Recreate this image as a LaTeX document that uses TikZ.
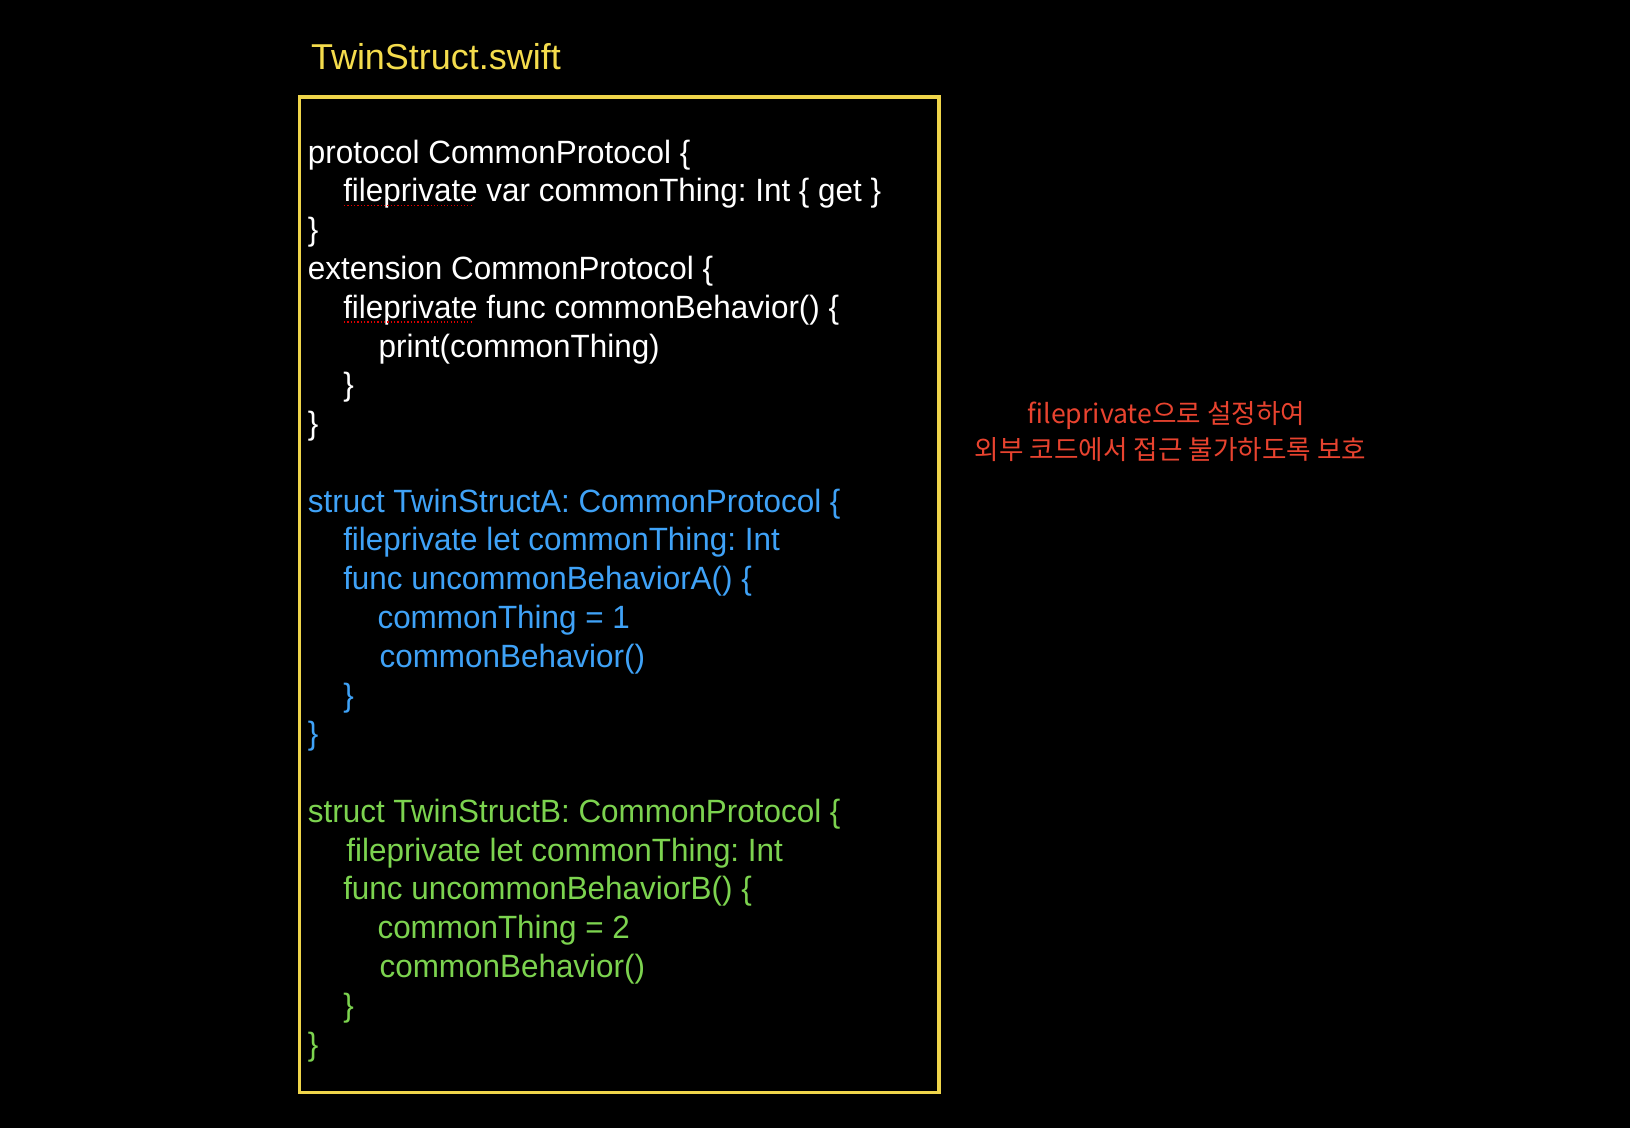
\documentclass[tikz,border=0pt]{standalone}
\usepackage{fontspec}
\setmainfont{Liberation Sans}
\newfontfamily\codefont[FakeStretch=0.975]{Liberation Sans}
\newfontfamily\krfont{Noto Sans CJK KR}
\frenchspacing
\definecolor{titleyellow}{HTML}{F4DC4C}
\definecolor{boxyellow}{HTML}{EFD54A}
\definecolor{codeblue}{HTML}{3FA2F7}
\definecolor{codegreen}{HTML}{7CD34F}
\definecolor{notered}{HTML}{E8432F}
\tikzset{
  codeline/.style={anchor=base west, inner sep=0pt, font=\codefont\fontsize{31}{37}\selectfont},
  wcode/.style={codeline, text=white},
  bcode/.style={codeline, text=codeblue},
  gcode/.style={codeline, text=codegreen},
  titletext/.style={anchor=base west, inner sep=0pt, text=titleyellow, font=\fontsize{34.6}{40}\selectfont},
  notetext/.style={anchor=base, inner sep=0pt, text=notered, font=\krfont\fontsize{25.6}{30}\selectfont},
  filebox/.style={draw=boxyellow, line width=3.5pt},
  spellmark/.style={draw=red!85!black, line width=1.2pt, dotted}
}
\begin{document}
\begin{tikzpicture}[x=1pt,y=-1pt]
\useasboundingbox (0,0) rectangle (1568,1085);
\fill[black] (0,0) rectangle (1568,1085);

\node[titletext] (title) at (299,67.3) {TwinStruct.swift};
\draw[filebox] (288,93) rectangle (903,1051);

\def\bl#1{157+37.3*#1}
% protocol + extension
\node[wcode] (l0) at (296,{\bl{0}}) {protocol CommonProtocol \{};
\node[wcode] (l1) at (330,{\bl{1}}) {fileprivate var commonThing: Int \{ get \}};
\node[wcode] (l2) at (296,{\bl{2}}) {\}};
\node[wcode] (l3) at (296,{\bl{3}}) {extension CommonProtocol \{};
\node[wcode] (l4) at (330,{\bl{4}}) {fileprivate func commonBehavior() \{};
\node[wcode] (l5) at (364,{\bl{5}}) {print(commonThing)};
\node[wcode] (l6) at (330,{\bl{6}}) {\}};
\node[wcode] (l7) at (296,{\bl{7}}) {\}};

% spell-check marks
\draw[spellmark] (331,{\bl{1}+3.5}) -- (453,{\bl{1}+3.5});
\draw[spellmark] (331,{\bl{4}+3.5}) -- (453,{\bl{4}+3.5});

% TwinStructA
\node[bcode] (a0) at (296,{\bl{9}}) {struct TwinStructA: CommonProtocol \{};
\node[bcode] (a1) at (330,{\bl{10}}) {fileprivate let commonThing: Int};
\node[bcode] (a2) at (330,{\bl{11}}) {func uncommonBehaviorA() \{};
\node[bcode] (a3) at (363,{\bl{12}}) {commonThing = 1};
\node[bcode] (a4) at (365,{\bl{13}}) {commonBehavior()};
\node[bcode] (a5) at (330,{\bl{14}}) {\}};
\node[bcode] (a6) at (296,{\bl{15}}) {\}};

% TwinStructB
\node[gcode] (b0) at (296,{\bl{17}}) {struct TwinStructB: CommonProtocol \{};
\node[gcode] (b1) at (333,{\bl{18}}) {fileprivate let commonThing: Int};
\node[gcode] (b2) at (330,{\bl{19}}) {func uncommonBehaviorB() \{};
\node[gcode] (b3) at (363,{\bl{20}}) {commonThing = 2};
\node[gcode] (b4) at (365,{\bl{21}}) {commonBehavior()};
\node[gcode] (b5) at (330,{\bl{22}}) {\}};
\node[gcode] (b6) at (296,{\bl{23}}) {\}};

% note
\node[notetext] (n1) at (1122,407) {fileprivate으로 설정하여};
\node[notetext] (n2) at (1126,442) {외부 코드에서 접근 불가하도록 보호};
\end{tikzpicture}
\end{document}
